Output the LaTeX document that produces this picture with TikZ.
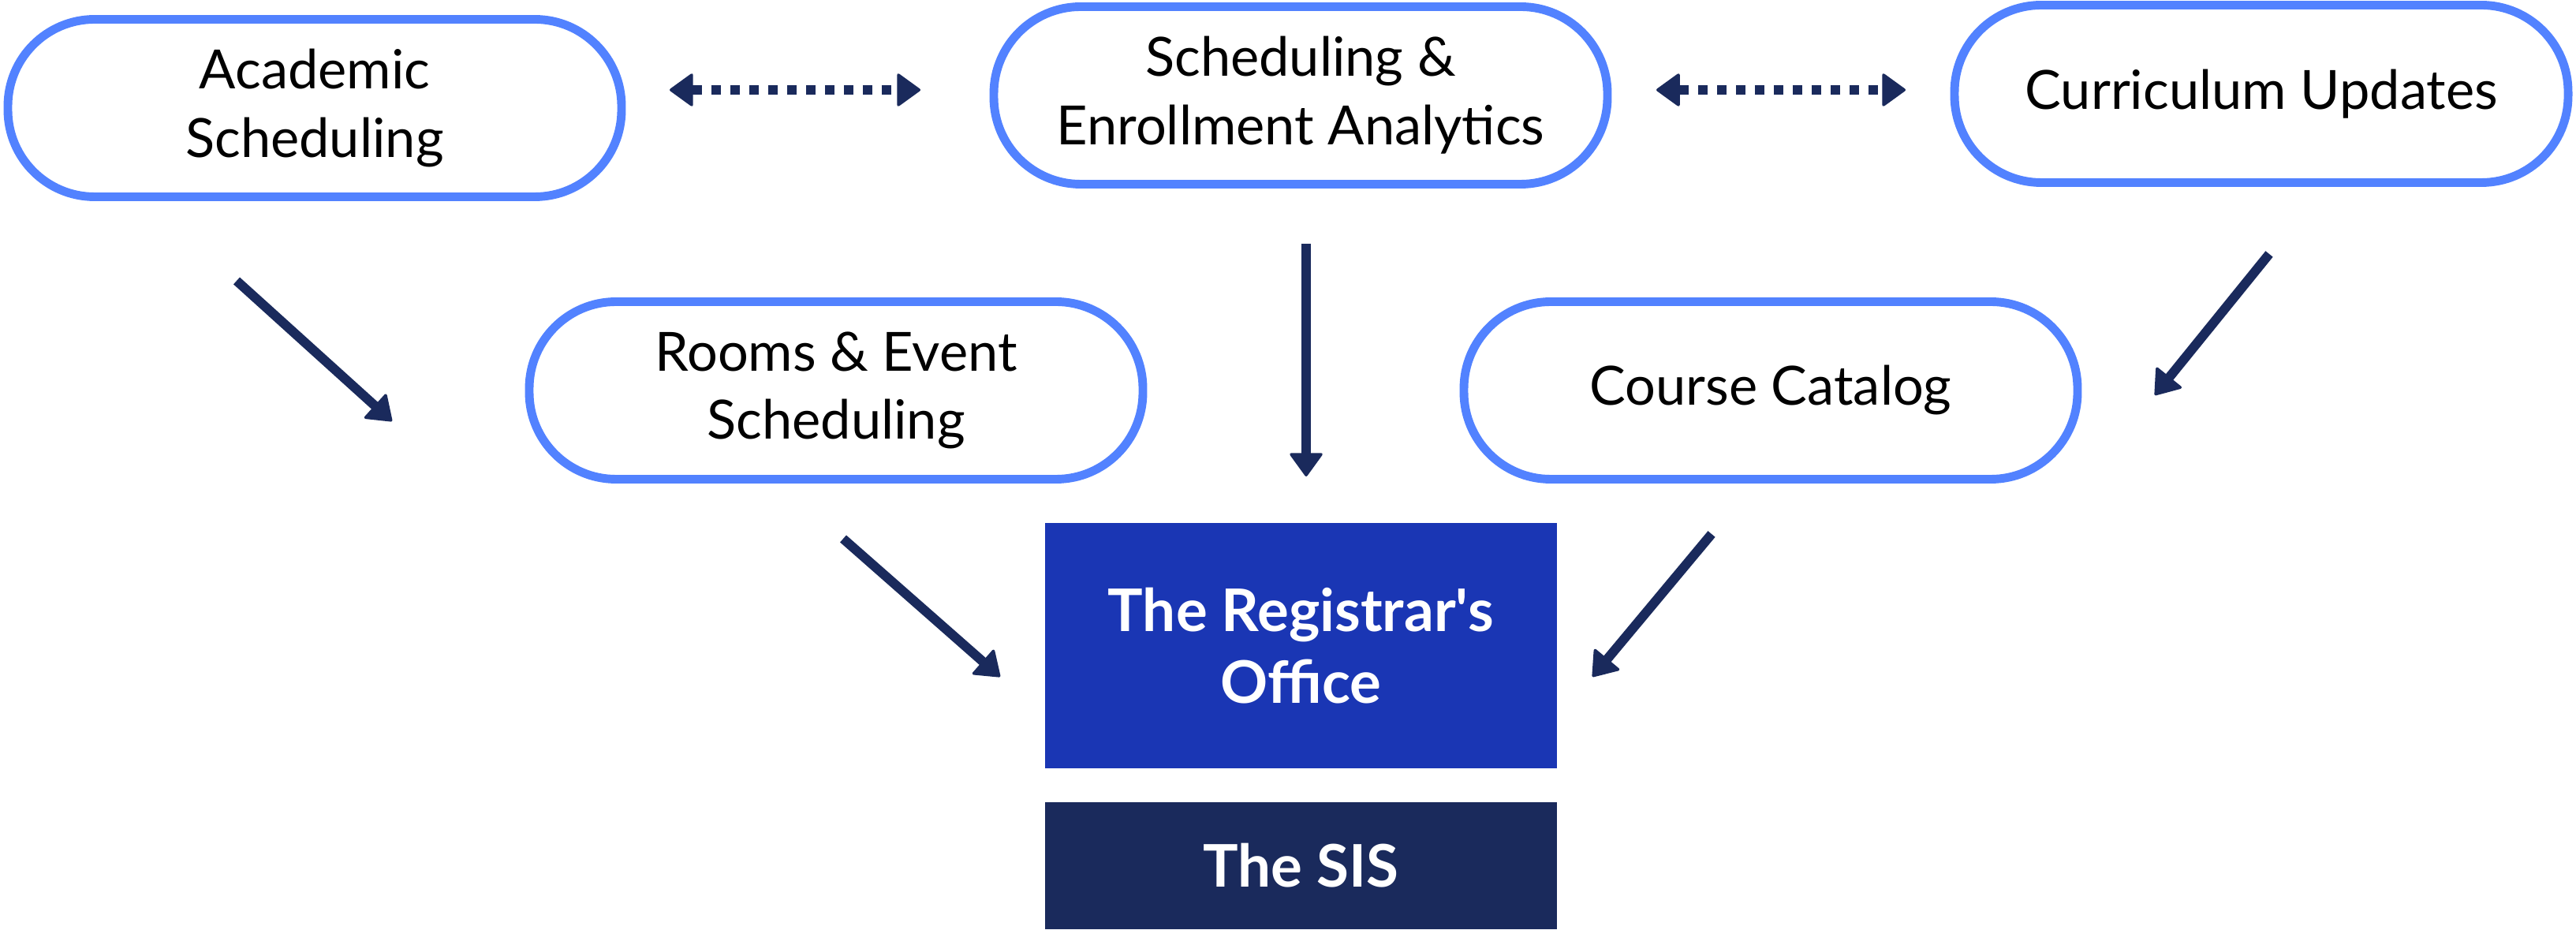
\documentclass[tikz,border=0pt]{standalone}
\usepackage{fontspec}
\setmainfont{Lato}
\usetikzlibrary{arrows.meta}
\definecolor{pillblue}{RGB}{82,130,255}
\definecolor{officeblue}{RGB}{26,54,180}
\definecolor{navy}{RGB}{26,42,92}
\tikzset{
  pill/.style={draw=pillblue, line width=3.1pt, rounded corners=1.1cm, fill=white,
    minimum width=7.78cm, minimum height=2.25cm, align=center, text=black,
    font=\fontsize{19.5}{24.7}\selectfont},
  office/.style={fill=officeblue, text=white, minimum width=6.49cm, minimum height=3.11cm,
    align=center, font=\fontsize{21.2}{26}\selectfont\bfseries},
  sisbox/.style={fill=navy, text=white, minimum width=6.49cm, minimum height=1.61cm,
    align=center, font=\fontsize{21.2}{26}\selectfont\bfseries},
  flow/.style={draw=navy, line width=3.4pt,
    -{Triangle[length=3.1mm, width=4.4mm, line width=1pt, round]}},
  link/.style={draw=navy, line width=3.2pt, dash pattern=on 0.12cm off 0.12cm,
    {Triangle[length=3.1mm, width=4.4mm, line width=1pt, round]}-{Triangle[length=3.1mm, width=4.4mm, line width=1pt, round]}}
}
\begin{document}
\begin{tikzpicture}
  \useasboundingbox (0,0) rectangle (32.66,11.78);
  % top row
  \node[pill] (acad) at (3.99,10.41) {Academic\\Scheduling};
  \node[pill] (sched) at (16.49,10.57) {Scheduling \&\\Enrollment Analytics};
  \node[pill] (curric) at (28.67,10.59) {Curriculum Updates};
  % middle row
  \node[pill] (rooms) at (10.60,6.83) {Rooms \& Event\\Scheduling};
  \node[pill] (course) at (22.45,6.83) {Course Catalog};
  % bottom
  \node[office] (office) at (16.495,3.595) {The Registrar\textquotesingle s\\Office};
  \node[sisbox] (sis) at (16.495,0.805) {The SIS};

  % arrow ends
  \coordinate (acadOut) at (3.00,8.22);
  \coordinate (acadIn) at (4.97,6.44);
  \coordinate (schedOut) at (16.56,8.69);
  \coordinate (schedIn) at (16.56,5.74);
  \coordinate (curricOut) at (28.77,8.56);
  \coordinate (curricIn) at (27.32,6.77);
  \coordinate (roomsOut) at (10.69,4.95);
  \coordinate (roomsIn) at (12.68,3.20);
  \coordinate (courseOut) at (21.70,5.01);
  \coordinate (courseIn) at (20.19,3.20);
  \coordinate (linkAL) at (8.49,10.64);
  \coordinate (linkAR) at (11.67,10.64);
  \coordinate (linkBL) at (21.00,10.64);
  \coordinate (linkBR) at (24.16,10.64);

  \draw[flow] (acadOut) -- (acadIn);
  \draw[flow] (schedOut) -- (schedIn);
  \draw[flow] (curricOut) -- (curricIn);
  \draw[flow] (roomsOut) -- (roomsIn);
  \draw[flow] (courseOut) -- (courseIn);
  \draw[link] (linkAL) -- (linkAR);
  \draw[link] (linkBL) -- (linkBR);
\end{tikzpicture}
\end{document}
